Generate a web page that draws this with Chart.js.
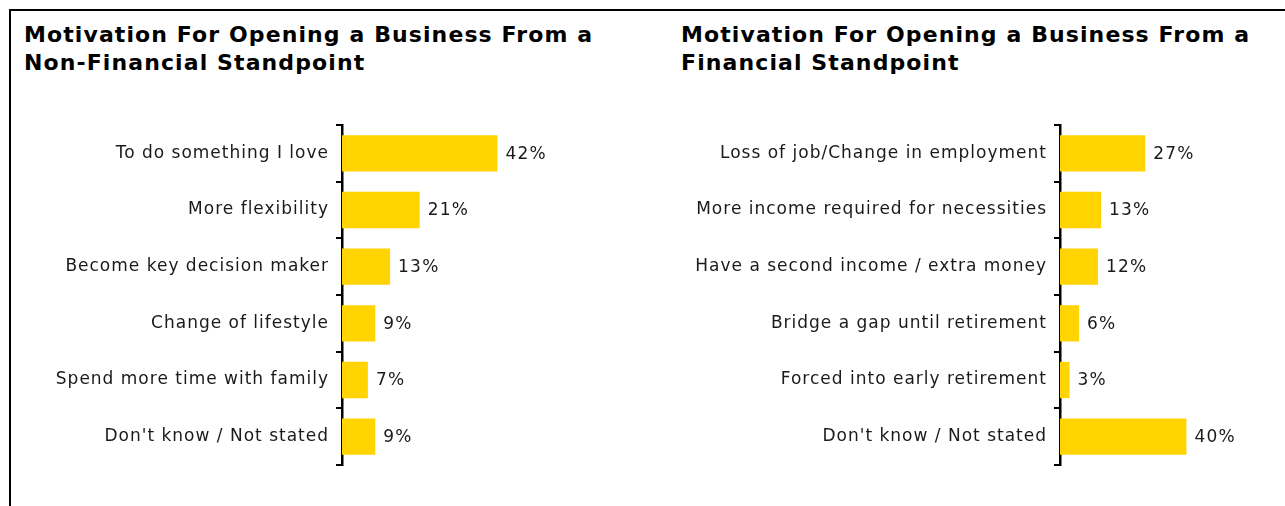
<!DOCTYPE html>
<html>
<head>
<meta charset="utf-8">
<script src="https://cdn.jsdelivr.net/npm/chart.js@4.4.1/dist/chart.umd.min.js"></script>
<style>
  html, body { margin: 0; padding: 0; background: #fff; }
  body { width: 1285px; height: 506px; position: relative; overflow: hidden; }
  .frame { position: absolute; left: 9px; top: 9px; right: -10px; bottom: -10px; border-top: 2px solid #000; border-left: 2px solid #000; }
  .title { position: absolute; top: 21px; font: bold 22px "DejaVu Sans", sans-serif; letter-spacing: 1.1px; line-height: 28px; color: #000; white-space: nowrap; }
  .box { position: absolute; top: 0; height: 506px; }
</style>
</head>
<body>
<div class="frame"></div>
<div class="title" style="left:24px">Motivation For Opening a Business From a<br>Non-Financial Standpoint</div>
<div class="title" style="left:681px">Motivation For Opening a Business From a<br>Financial Standpoint</div>
<div class="box" style="left:0;width:640px"><canvas id="nonFinancial"></canvas></div>
<div class="box" style="left:640px;width:645px"><canvas id="financial"></canvas></div>

<script>
// chart data
const nonFinancialLabels = ['To do something I love', 'More flexibility', 'Become key decision maker',
  'Change of lifestyle', 'Spend more time with family', "Don't know / Not stated"];
const nonFinancialValues = [42, 21, 13, 9, 7, 9];

const financialLabels = ['Loss of job/Change in employment', 'More income required for necessities',
  'Have a second income / extra money', 'Bridge a gap until retirement', 'Forced into early retirement',
  "Don't know / Not stated"];
const financialValues = [27, 13, 12, 6, 3, 40];

const barColor = '#FFD400';

// the source text is set a bit wider than DejaVu, so space the letters out
const wideText = {
    id: 'wideText',
    beforeDraw(chart) { chart.ctx.letterSpacing = '1px'; },
    afterDraw(chart) { chart.ctx.letterSpacing = '0px'; }
};

// draws "NN%" just past the end of each bar
const valueLabels = {
    id: 'valueLabels',
    afterDatasetsDraw(chart) {
        const ctx = chart.ctx;
        const meta = chart.getDatasetMeta(0);
        ctx.save();
        ctx.font = '17px "DejaVu Sans", sans-serif';
        ctx.letterSpacing = '1.2px';
        ctx.fillStyle = '#1a1a1a';
        ctx.textBaseline = 'middle';
        ctx.textAlign = 'left';
        meta.data.forEach(function (bar, i) {
            ctx.fillText(chart.data.datasets[0].data[i] + '%', bar.x + 8, bar.y + 1);
        });
        ctx.restore();
    }
};

function initBarChart(canvasId, labels, values, axisWidth, rightPad) {
    const ctx = document.getElementById(canvasId);
    return new Chart(ctx, {
        type: 'bar',
        data: {
            labels,
            datasets: [{
                data: values,
                backgroundColor: barColor,
                borderWidth: 0,
                categoryPercentage: 1,
                barPercentage: 0.64,
            }],
        },
        options: {
            indexAxis: 'y',
            responsive: true,
            maintainAspectRatio: false,
            animation: false,
            layout: { padding: { top: 125, bottom: 41, left: 0, right: rightPad } },
            plugins: { legend: { display: false }, tooltip: { enabled: false } },
            scales: {
                x: { display: false, min: 0, max: 50 },
                y: {
                    afterFit: function (scale) { scale.width = axisWidth; },
                    border: { display: true, color: '#000', width: 2.5 },
                    grid: { offset: true, drawOnChartArea: false, drawTicks: true, tickLength: 6, color: '#000', lineWidth: 2 },
                    ticks: { color: '#1a1a1a', padding: 7, font: { family: '"DejaVu Sans", sans-serif', size: 17 } },
                },
            },
        },
        plugins: [wideText, valueLabels],
    });
}

initBarChart('nonFinancial', nonFinancialLabels, nonFinancialValues, 342, 113);
initBarChart('financial', financialLabels, financialValues, 420, 67);
</script>
</body>
</html>
